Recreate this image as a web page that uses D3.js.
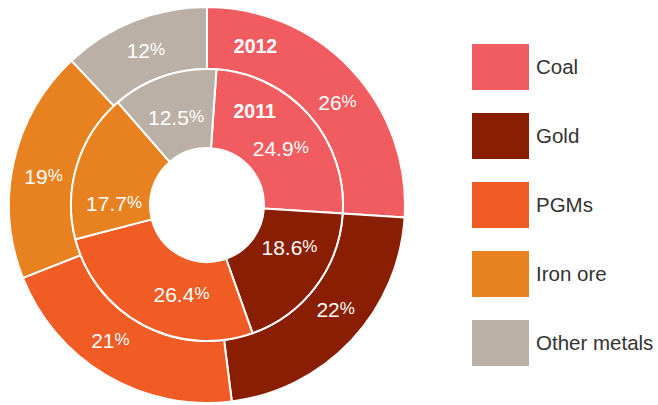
<!DOCTYPE html>
<html>
<head>
<meta charset="utf-8">
<script src="https://cdn.jsdelivr.net/npm/d3@7"></script>
<style>
	body { margin: 0; background: #fff; }
	text { font-family: "Liberation Sans", Arial, Helvetica, sans-serif; }
</style>
</head>
<body>
<div id="chart"></div>
<script>
const w = 658;
const h = 405;

// data
const categories = ["Coal", "Gold", "PGMs", "Iron ore", "Other metals"];
const share2012 = [26, 22, 21, 19, 12];
const share2011 = [24.9, 18.6, 26.4, 17.7, 12.5];
const colors = ["#f05c60", "#8a1e02", "#f15b24", "#e8811f", "#bab0a5"];

// layout
const cx = 207, cy = 205;
const rHole = 57, rMid = 136, rOuter = 198;
const innerStart = 4 * Math.PI / 180;
// small nudges (degrees) so labels sit where the original put them
const outerNudge = [5, -4, 5, -2.6, 0];
const innerNudge = [3.7, -9.5, -12, -16, -1];

let svg = d3.select('#chart')
	.append('svg')
		.attr('width', w)
		.attr('height', h);

let g = svg.append('g')
	.attr('transform', 'translate(' + cx + ',' + cy + ')');

let outerPie = d3.pie().sort(null).value((d) => d)
	.startAngle(0).endAngle(2 * Math.PI)(share2012);
let innerPie = d3.pie().sort(null).value((d) => d)
	.startAngle(innerStart).endAngle(innerStart + 2 * Math.PI)(share2011);

let outerArc = d3.arc().innerRadius(rMid).outerRadius(rOuter);
let innerArc = d3.arc().innerRadius(rHole).outerRadius(rMid);

g.selectAll('path.outer')
	.data(outerPie)
	.enter()
	.append('path')
	.attr('class', 'outer')
	.attr('d', outerArc)
	.attr('fill', (d, i) => colors[i])
	.attr('stroke', '#fff')
	.attr('stroke-width', 2);

g.selectAll('path.inner')
	.data(innerPie)
	.enter()
	.append('path')
	.attr('class', 'inner')
	.attr('d', innerArc)
	.attr('fill', (d, i) => colors[i])
	.attr('stroke', '#fff')
	.attr('stroke-width', 2);

function polar(r, a) {
	return [r * Math.sin(a), -r * Math.cos(a)];
}

function pctLabel(sel, value) {
	sel.append('tspan').text(value);
	sel.append('tspan')
		.attr('font-size', '17px')
		.attr('dy', '-3')
		.text('%');
}

function addLabels(arcs, values, radius, nudge) {
	arcs.forEach((d, i) => {
		const a = (d.startAngle + d.endAngle) / 2 + nudge[i] * Math.PI / 180;
		const p = polar(radius, a);
		const t = g.append('text')
			.attr('x', p[0])
			.attr('y', p[1])
			.attr('dy', '0.36em')
			.attr('text-anchor', 'middle')
			.attr('fill', '#fff')
			.attr('font-size', '21px');
		pctLabel(t, values[i]);
	});
}

addLabels(outerPie, share2012, 166, outerNudge);
addLabels(innerPie, share2011, 93, innerNudge);

// year labels inside the coal slices
const y2012 = polar(166, 17 * Math.PI / 180);
g.append('text')
	.attr('x', y2012[0]).attr('y', y2012[1])
	.attr('dy', '0.36em')
	.attr('text-anchor', 'middle')
	.attr('fill', '#fff')
	.attr('font-weight', 'bold')
	.attr('font-size', '19.5px')
	.text('2012');

const y2011 = polar(105, 27 * Math.PI / 180);
g.append('text')
	.attr('x', y2011[0]).attr('y', y2011[1])
	.attr('dy', '0.36em')
	.attr('text-anchor', 'middle')
	.attr('fill', '#fff')
	.attr('font-weight', 'bold')
	.attr('font-size', '19.5px')
	.text('2011');

// legend
let legendY = d3.scaleBand()
	.domain(categories)
	.range([44, 366])
	.paddingInner(1 / 3)
	.paddingOuter(0);

let legend = svg.selectAll('g.legend')
	.data(categories)
	.enter()
	.append('g')
	.attr('class', 'legend')
	.attr('transform', (d) => 'translate(472,' + legendY(d) + ')');

legend.append('rect')
	.attr('width', 57)
	.attr('height', legendY.bandwidth())
	.attr('fill', (d, i) => colors[i]);

legend.append('text')
	.attr('x', 64)
	.attr('y', legendY.bandwidth() / 2)
	.attr('dy', '0.36em')
	.attr('fill', '#333')
	.attr('font-size', '20.5px')
	.text((d) => d);
</script>
</body>
</html>
